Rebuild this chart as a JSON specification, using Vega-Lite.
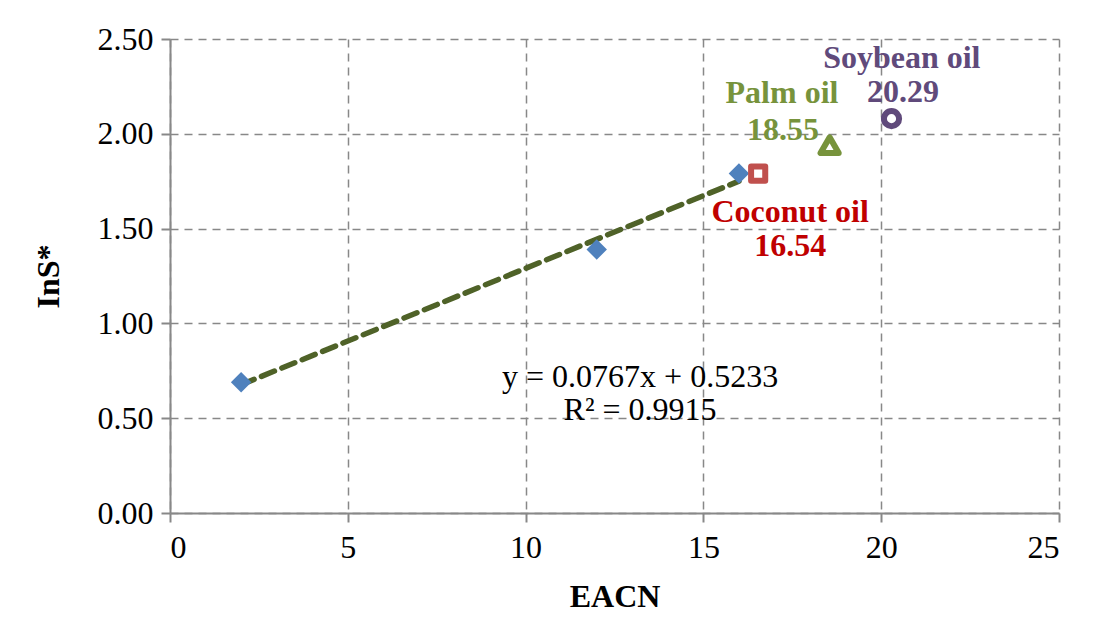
{
  "$schema": "https://vega.github.io/schema/vega-lite/v6.json",
  "width": 889,
  "height": 474,
  "autosize": {"type": "none"},
  "padding": {"left": 170, "top": 39, "right": 41, "bottom": 129},
  "background": "white",
  "config": {
    "view": {"stroke": null},
    "font": "Liberation Serif",
    "axis": {
      "labelFont": "Liberation Serif",
      "titleFont": "Liberation Serif",
      "labelFontSize": 32,
      "titleFontSize": 32,
      "labelColor": "black",
      "titleColor": "black",
      "domainColor": "#888888",
      "domainWidth": 2,
      "tickColor": "#888888",
      "tickWidth": 2,
      "tickSize": 9,
      "gridColor": "#888888",
      "gridWidth": 1.5,
      "gridDash": [8, 6],
      "gridOpacity": 1
    }
  },
  "layer": [
    {
      "data": {"values": [{"EACN": 2, "InS": 0.6767}, {"EACN": 16, "InS": 1.7505}]},
      "mark": {"type": "line", "color": "#4f6228", "strokeWidth": 5.5, "strokeDash": [14, 8], "strokeCap": "round"},
      "encoding": {
        "x": {"field": "EACN", "type": "quantitative", "scale": {"domain": [0, 25], "nice": false},
          "axis": {"title": "EACN", "titleFontWeight": "bold", "values": [0, 5, 10, 15, 20, 25], "labelPadding": 10, "titlePadding": 18}},
        "y": {"field": "InS", "type": "quantitative", "scale": {"domain": [0, 2.5], "nice": false},
          "axis": {"title": "InS*", "titleFontWeight": "bold", "values": [0, 0.5, 1, 1.5, 2, 2.5], "format": ".2f", "labelPadding": 8, "titlePadding": 32}}
      }
    },
    {
      "data": {"values": [
        {"EACN": 2, "InS": 0.69, "series": "ref"},
        {"EACN": 12, "InS": 1.39, "series": "ref"},
        {"EACN": 16, "InS": 1.79, "series": "ref"}
      ]},
      "mark": {"type": "point", "shape": "diamond", "filled": true, "color": "#4f81bd", "size": 420, "opacity": 1},
      "encoding": {
        "x": {"field": "EACN", "type": "quantitative"},
        "y": {"field": "InS", "type": "quantitative"}
      }
    },
    {
      "data": {"values": [{"EACN": 16.54, "InS": 1.79, "oil": "Coconut oil"}]},
      "mark": {"type": "point", "shape": "square", "filled": false, "fill": "white", "stroke": "#c0504d", "strokeWidth": 6, "size": 200, "opacity": 1, "strokeJoin": "round"},
      "encoding": {
        "x": {"field": "EACN", "type": "quantitative"},
        "y": {"field": "InS", "type": "quantitative"}
      }
    },
    {
      "data": {"values": [{"EACN": 18.55, "InS": 1.94, "oil": "Palm oil"}]},
      "mark": {"type": "point", "shape": "triangle-up", "filled": false, "fill": "white", "stroke": "#77933c", "strokeWidth": 6, "size": 330, "opacity": 1, "strokeJoin": "round"},
      "encoding": {
        "x": {"field": "EACN", "type": "quantitative"},
        "y": {"field": "InS", "type": "quantitative"}
      }
    },
    {
      "data": {"values": [{"EACN": 20.29, "InS": 2.08, "oil": "Soybean oil"}]},
      "mark": {"type": "point", "shape": "circle", "filled": false, "fill": "white", "stroke": "#604a7b", "strokeWidth": 6, "size": 230, "opacity": 1},
      "encoding": {
        "x": {"field": "EACN", "type": "quantitative"},
        "y": {"field": "InS", "type": "quantitative"}
      }
    },
    {
      "data": {"values": [
        {"lx": 20.58, "ly": 2.40, "label": "Soybean oil", "oil": "Soybean"},
        {"lx": 20.61, "ly": 2.22, "label": "20.29", "oil": "Soybean"},
        {"lx": 17.21, "ly": 2.215, "label": "Palm oil", "oil": "Palm"},
        {"lx": 17.24, "ly": 2.02, "label": "18.55", "oil": "Palm"},
        {"lx": 17.44, "ly": 1.59, "label": "Coconut oil", "oil": "Coconut"},
        {"lx": 17.44, "ly": 1.41, "label": "16.54", "oil": "Coconut"}
      ]},
      "mark": {"type": "text", "font": "Liberation Serif", "fontWeight": "bold", "fontSize": 32, "align": "center", "baseline": "middle"},
      "encoding": {
        "x": {"field": "lx", "type": "quantitative"},
        "y": {"field": "ly", "type": "quantitative"},
        "text": {"field": "label"},
        "color": {"field": "oil", "type": "nominal", "legend": null,
          "scale": {"domain": ["Soybean", "Palm", "Coconut"], "range": ["#604a7b", "#77933c", "#c00000"]}}
      }
    },
    {
      "data": {"values": [
        {"lx": 13.22, "ly": 0.717, "label": "y = 0.0767x + 0.5233"},
        {"lx": 13.22, "ly": 0.543, "label": "R² = 0.9915"}
      ]},
      "mark": {"type": "text", "font": "Liberation Serif", "fontSize": 32, "align": "center", "baseline": "middle", "color": "black"},
      "encoding": {
        "x": {"field": "lx", "type": "quantitative"},
        "y": {"field": "ly", "type": "quantitative"},
        "text": {"field": "label"}
      }
    }
  ]
}
